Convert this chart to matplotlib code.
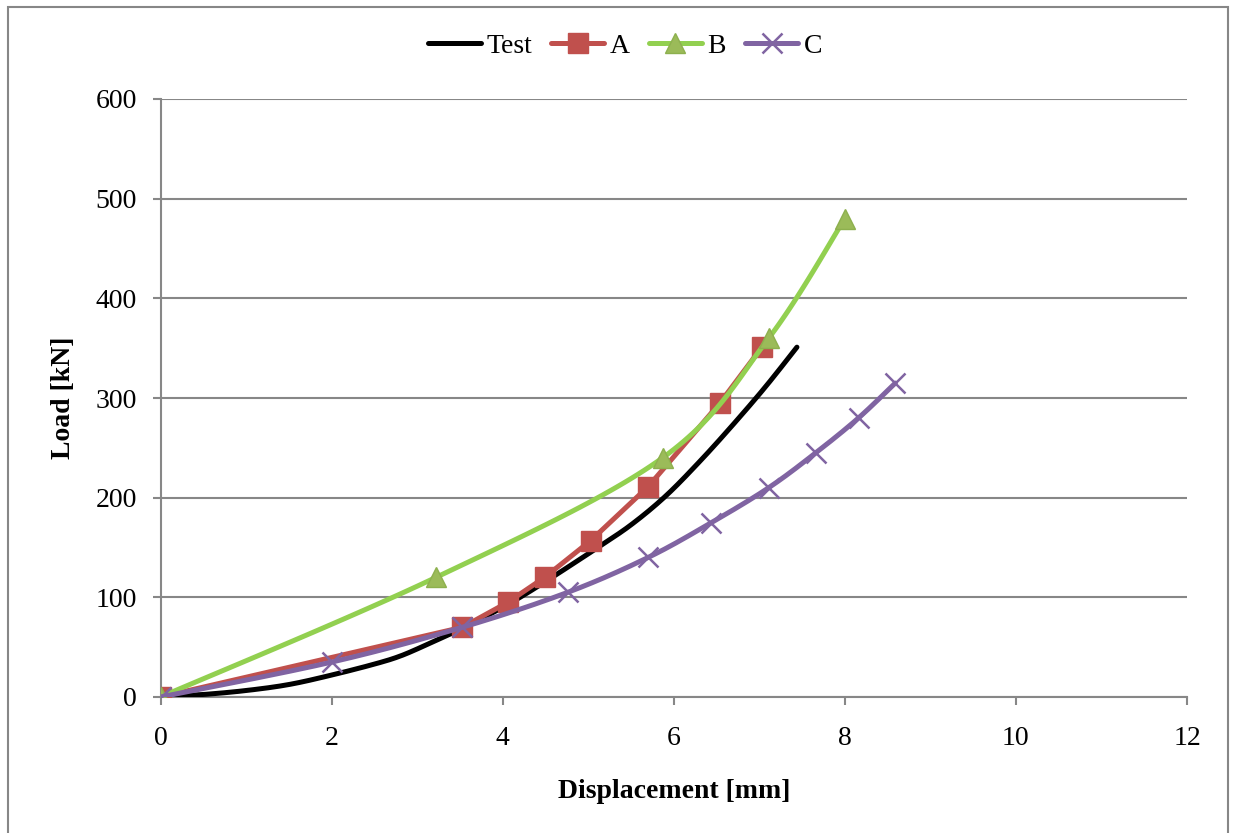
import numpy as np
import matplotlib
matplotlib.use("Agg")
import matplotlib.pyplot as plt
from matplotlib.patches import Rectangle
from matplotlib.lines import Line2D

plt.rcParams['font.family'] = ['Liberation Serif', 'DejaVu Serif']

# ---- data ----
test_x = [0, 0.5, 1.0, 1.5, 2.0, 2.5, 2.8, 3.1, 3.38, 3.53, 4.0, 4.43, 5.13, 5.52, 5.91, 6.30, 6.68, 7.07, 7.44]
test_y = [0, 2.5, 6.5, 12.5, 22, 33, 41, 52, 63, 69, 90, 112, 151, 174, 202, 236, 272, 311, 351]

a_x = [0, 3.53, 4.06, 4.49, 5.03, 5.70, 6.54, 7.03]
a_y = [0, 70, 95, 120, 157, 211, 295, 351]

b_x = [0, 3.22, 5.87, 7.11, 8.0]
b_y = [0, 120, 240, 360, 480]

c_x = [0, 2.0, 3.53, 4.76, 5.70, 6.44, 7.11, 7.66, 8.16, 8.59]
c_y = [0, 35, 70, 105, 140, 175, 210, 245, 280, 315]

x_ticks = [0, 2, 4, 6, 8, 10, 12]
y_ticks = [0, 100, 200, 300, 400, 500, 600]

series_names = ['Test', 'A', 'B', 'C']


def smooth(xs, ys, n=30):
    """Excel-like smoothed line (Catmull-Rom Bezier) through the given points."""
    P = np.column_stack([xs, ys]).astype(float)
    if len(P) < 3:
        return P[:, 0], P[:, 1]
    ext = np.vstack([P[0], P, P[-1]])
    out = []
    t = np.linspace(0, 1, n)[:, None]
    for i in range(1, len(ext) - 2):
        p0, p1, p2, p3 = ext[i - 1], ext[i], ext[i + 1], ext[i + 2]
        c1 = p1 + (p2 - p0) / 6.0
        c2 = p2 - (p3 - p1) / 6.0
        seg = ((1 - t) ** 3) * p1 + 3 * ((1 - t) ** 2) * t * c1 + 3 * (1 - t) * t ** 2 * c2 + t ** 3 * p2
        out.append(seg if i == 1 else seg[1:])
    out = np.vstack(out)
    return out[:, 0], out[:, 1]


W, H = 1233, 833
fig = plt.figure(figsize=(W / 100, H / 100), dpi=100)
ax = fig.add_axes([160.5 / W, 1 - 697 / H, (1187 - 160.5) / W, (697 - 99) / H])

grid_c = '#878787'
red = '#C0504D'
green = '#92D050'
green_m = '#9BBB59'
purple = '#8064A2'

lw = 3.6
# Test
tx, ty = smooth(test_x, test_y)
ax.plot(tx, ty, color='black', lw=lw, solid_capstyle='round', zorder=3)
# A (straight segments)
ax.plot(a_x, a_y, color=red, lw=lw, marker='s', ms=14.5, mfc=red, mec=red, zorder=4)
# B
bx, by = smooth(b_x, b_y)
ax.plot(bx, by, color=green, lw=lw, solid_capstyle='round', zorder=5)
ax.plot(b_x, b_y, ls='none', marker='^', ms=15, mfc=green_m, mec='#8DB04E', zorder=5)
# C
cx, cy = smooth(c_x, c_y)
ax.plot(cx, cy, color=purple, lw=lw, solid_capstyle='round', zorder=6)
ax.plot(c_x, c_y, ls='none', marker='x', ms=14, mew=1.8, color=purple, zorder=6)

ax.set_xlim(0, 12)
ax.set_ylim(0, 600)
ax.set_xticks(x_ticks)
ax.set_yticks(y_ticks)
ax.set_xticklabels([str(v) for v in x_ticks])
ax.set_yticklabels([str(v) for v in y_ticks])
ax.tick_params(axis='both', direction='out', length=6, width=1.5, color=grid_c,
               labelsize=20)
ax.tick_params(axis='x', pad=15)
ax.tick_params(axis='y', pad=11)
ax.yaxis.grid(True, color=grid_c, lw=1.5)
ax.set_axisbelow(True)
for s in ['top', 'right']:
    ax.spines[s].set_visible(False)
for s in ['left', 'bottom']:
    ax.spines[s].set_color(grid_c)
    ax.spines[s].set_linewidth(1.5)

ax.set_xlabel('Displacement [mm]', fontsize=20, fontweight='bold', labelpad=20)
ax.set_ylabel('Load [kN]', fontsize=20, fontweight='bold', labelpad=14)

handles = [
    Line2D([], [], color='black', lw=lw, solid_capstyle='round'),
    Line2D([], [], color=red, lw=lw, marker='s', ms=15, mfc=red, mec=red, solid_capstyle='round'),
    Line2D([], [], color=green, lw=lw, marker='^', ms=15, mfc=green_m, mec='#8DB04E', solid_capstyle='round'),
    Line2D([], [], color=purple, lw=lw, marker='x', ms=14, mew=1.8, solid_capstyle='round'),
]
fig.legend(handles, series_names, loc='center', bbox_to_anchor=(625 / W, 1 - 46 / H),
           ncol=4, frameon=False, fontsize=20, handlelength=1.9, handletextpad=0.2,
           columnspacing=0.7, borderpad=0)

fig.patches.append(Rectangle((8 / W, -0.05), (1228 - 8) / W, 1.05 - 7 / H,
                             transform=fig.transFigure, fill=False,
                             edgecolor=grid_c, lw=1.5, zorder=0))

fig.savefig('out.png', dpi=100)
